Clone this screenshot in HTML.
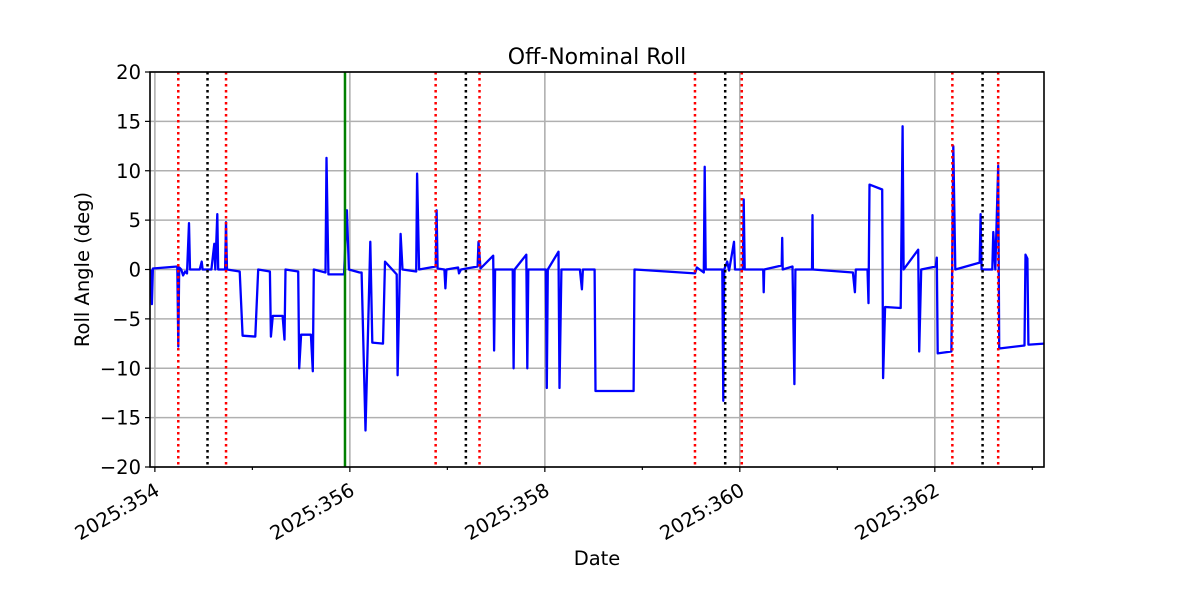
<!DOCTYPE html>
<html><head><meta charset="utf-8"><style>
body{margin:0;background:#fff;font-family:"DejaVu Sans","Liberation Sans",sans-serif}
</style></head><body>
<svg id="chart" width="1200" height="600" xmlns="http://www.w3.org/2000/svg" font-family="DejaVu Sans, Liberation Sans, sans-serif">
</svg>
<script>
const times=[353.96,353.97,353.98,354.23,354.24,354.25,354.27,354.29,354.31,354.33,354.35,354.36,354.46,354.48,354.49,354.58,354.61,354.62,354.64,354.65,354.72,354.73,354.74,354.87,354.90,355.03,355.06,355.18,355.19,355.21,355.31,355.33,355.34,355.47,355.48,355.50,355.60,355.62,355.63,355.75,355.76,355.78,355.94,355.97,355.99,356.10,356.12,356.16,356.21,356.23,356.34,356.36,356.48,356.49,356.52,356.54,356.68,356.69,356.71,356.88,356.89,356.90,356.97,356.98,356.99,357.11,357.12,357.14,357.31,357.32,357.34,357.47,357.48,357.49,357.67,357.68,357.69,357.81,357.82,357.83,358.01,358.02,358.03,358.14,358.15,358.17,358.36,358.38,358.39,358.51,358.52,358.91,358.92,359.54,359.56,359.63,359.64,359.65,359.82,359.83,359.84,359.87,359.89,359.94,359.95,360.03,360.04,360.05,360.24,360.245,360.25,360.43,360.435,360.44,360.54,360.56,360.57,360.74,360.745,360.75,361.16,361.18,361.19,361.31,361.32,361.33,361.46,361.47,361.49,361.65,361.67,361.68,361.83,361.84,361.86,362.01,362.02,362.03,362.17,362.19,362.21,362.46,362.47,362.48,362.59,362.60,362.62,362.65,362.66,362.92,362.93,362.95,362.96,362.97,363.12];
const rolls=[0,-3.5,0.1,0.3,-7.8,0.2,0,-0.6,-0.2,-0.4,4.7,0,0,0.8,0,0,2.6,0,5.6,0,0,4.8,0,-0.2,-6.7,-6.8,0,-0.2,-6.8,-4.7,-4.7,-7.1,0,-0.2,-10,-6.6,-6.6,-10.3,0,-0.3,11.3,-0.5,-0.5,6,0,-0.3,-0.3,-16.3,2.8,-7.4,-7.5,0.8,-0.5,-10.7,3.6,0,-0.2,9.7,0,0.3,6,0.1,0,-1.9,0,0.2,-0.4,0,0.3,2.8,0.1,1.4,-8.2,0,0,-10,0,1.5,-10,0,0,-12,0,1.8,-12,0,0,-2,0,0,-12.3,-12.3,0,-0.4,0.2,-0.3,10.4,0,0,-13.3,0,0.8,-0.1,2.8,0,0,7.1,0,0,-2.3,0,0.4,3.2,0,0.3,-11.6,0,0,5.5,0,-0.3,-2.3,0,0,-3.4,8.6,8.1,-11,-3.8,-3.9,14.5,0,2,-8.3,0,0.3,1.2,-8.5,-8.3,12.5,0,0.7,5.6,0,0,3.8,0,10.5,-8,-7.7,1.5,1.1,-7.6,-7.6,-7.5];
const redLines=[354.24,354.73,356.88,357.33,359.54,360.02,362.18,362.65];
const blackLines=[354.54,357.19,359.85,362.49];
const greenLines=[355.95];
const yTicks=[-20,-15,-10,-5,0,5,10,15,20];
const xMajor=[354,356,358,360,362];
const xMinor=[355,357,359,361,363];

const L=150,R=1044,T=72,B=467,X0=353.95,X1=363.12,Y0=-20,Y1=20;
const sx=v=>L+(v-X0)/(X1-X0)*(R-L);
const sy=v=>B-(v-Y0)/(Y1-Y0)*(B-T);
const svg=document.getElementById('chart');
const NS='http://www.w3.org/2000/svg';
function mk(tag,attrs,parent){const e=document.createElementNS(NS,tag);for(const k in attrs)e.setAttribute(k,attrs[k]);(parent||svg).appendChild(e);return e;}

xMajor.forEach(v=>{const g=mk('line',{x1:sx(v),x2:sx(v),y1:T,y2:B,stroke:'#b0b0b0','stroke-width':1.6});

});
yTicks.forEach(v=>{const g=mk('line',{x1:L,x2:R,y1:sy(v),y2:sy(v),stroke:'#b0b0b0','stroke-width':1.6});

});

const clip=mk('clipPath',{id:'pc'});mk('rect',{x:L,y:T,width:R-L,height:B-T},clip);
let d='';times.forEach((t,i)=>{d+=(i?'L':'M')+sx(t).toFixed(1)+' '+sy(rolls[i]).toFixed(1);});
const line=mk('path',{d:d,fill:'none',stroke:'#0000ff','stroke-width':2.3,'stroke-linejoin':'round','clip-path':'url(#pc)'});



redLines.forEach(v=>{const e=mk('line',{x1:sx(v),x2:sx(v),y1:T,y2:B,stroke:'#ff0000','stroke-width':2.5,'stroke-dasharray':'2.5,3.5'});

});
blackLines.forEach(v=>{const e=mk('line',{x1:sx(v),x2:sx(v),y1:T,y2:B,stroke:'#000','stroke-width':2.5,'stroke-dasharray':'2.5,3.5'});

});
greenLines.forEach(v=>{const e=mk('line',{x1:sx(v),x2:sx(v),y1:T,y2:B,stroke:'#008000','stroke-width':2.5});

});

const fr=mk('rect',{x:L,y:T,width:R-L,height:B-T,fill:'none',stroke:'#000','stroke-width':1.6});



yTicks.forEach(v=>{mk('line',{x1:L-5,x2:L,y1:sy(v),y2:sy(v),stroke:'#000','stroke-width':1.2});
const t=mk('text',{x:L-9,y:sy(v)+7,'text-anchor':'end','font-size':19.5,fill:'#000'});t.textContent=(v<0?'\u2212'+(-v):v);

});
xMinor.forEach(v=>{if(sx(v)<=R)mk('line',{x1:sx(v),x2:sx(v),y1:B,y2:B+3,stroke:'#000','stroke-width':1.2});});
xMajor.forEach(v=>{mk('line',{x1:sx(v),x2:sx(v),y1:B,y2:B+5,stroke:'#000','stroke-width':1.2});
const x=sx(v)+6,y=B+27;
const t=mk('text',{x:x,y:y,'text-anchor':'end','font-size':19.5,fill:'#000',transform:`rotate(-30 ${x} ${y})`});t.textContent='2025:'+v;

});

const title=mk('text',{x:(L+R)/2,y:64,'text-anchor':'middle','font-size':22,fill:'#000'});title.textContent='Off-Nominal Roll';


const xl=mk('text',{x:(L+R)/2,y:565,'text-anchor':'middle','font-size':19.5,fill:'#000'});xl.textContent='Date';


const yl=mk('text',{x:89,y:(T+B)/2,'text-anchor':'middle','font-size':19.5,fill:'#000',transform:`rotate(-90 89 ${(T+B)/2})`});yl.textContent='Roll Angle (deg)';


</script>
</body></html>
